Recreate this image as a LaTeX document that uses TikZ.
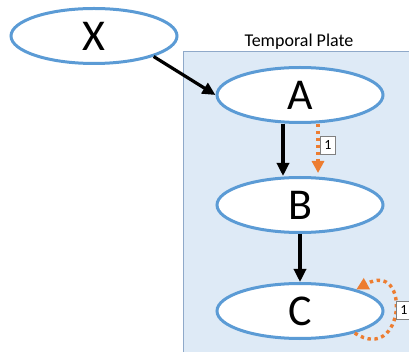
\documentclass[tikz,border=0pt]{standalone}
\usepackage{fontspec}
\setmainfont{Carlito}
\usetikzlibrary{shapes.geometric,arrows.meta}
\definecolor{nodeblue}{HTML}{5B9BD5}
\definecolor{platefill}{HTML}{DEEAF6}
\definecolor{plateedge}{HTML}{8FA9C9}
\definecolor{lagorange}{HTML}{ED7D31}
\tikzset{
  var/.style={ellipse, draw=nodeblue, line width=3pt, fill=white,
    minimum width=166pt, minimum height=55pt, inner sep=0pt,
    font=\fontsize{44}{44}\selectfont},
  edge/.style={line width=3.2pt, -{Triangle[width=12pt,length=13pt]}},
  lag/.style={draw=lagorange, line width=3.4pt, dash pattern=on 3.4pt off 3.6pt,
    -{Triangle[width=12pt,length=12pt,fill=lagorange]}},
  lagbox/.style={draw=gray, fill=white, line width=0.9pt, minimum width=15pt,
    minimum height=18pt, inner sep=0pt, font=\fontsize{14}{14}\selectfont}
}
\begin{document}
\begin{tikzpicture}[x=1pt,y=-1pt]
\useasboundingbox (0,0) rectangle (409,352);
% plate
\draw[fill=platefill, draw=plateedge, line width=1pt] (183,52) rectangle (420,360);
\node (title) at (299,42) {\fontsize{18}{18}\selectfont Temporal Plate};
% variables
\node[var] (X) at (94,36) {X};
\node[var] (A) at (300,95) {A};
\node[var] (B) at (300,205) {B};
\node[var] (C) at (300,311) {C};
% edges
\draw[edge] (X.-19) -- (A.west);
\draw[edge] ([xshift=-17pt]A.south) -- ([xshift=-17pt]B.north);
\draw[edge] (B.south) -- (C.north);
% lagged dependencies
\draw[lag] ([xshift=18pt]A.south) -- ([xshift=18pt,yshift=3pt]B.north);
\node[lagbox] (l1) at (328,145) {1};
\draw[lag] (C.-22) .. controls +(50,32) and +(55,-30) .. (C.21);
\node[lagbox] (l2) at (404,310) {1};
\end{tikzpicture}
\end{document}
